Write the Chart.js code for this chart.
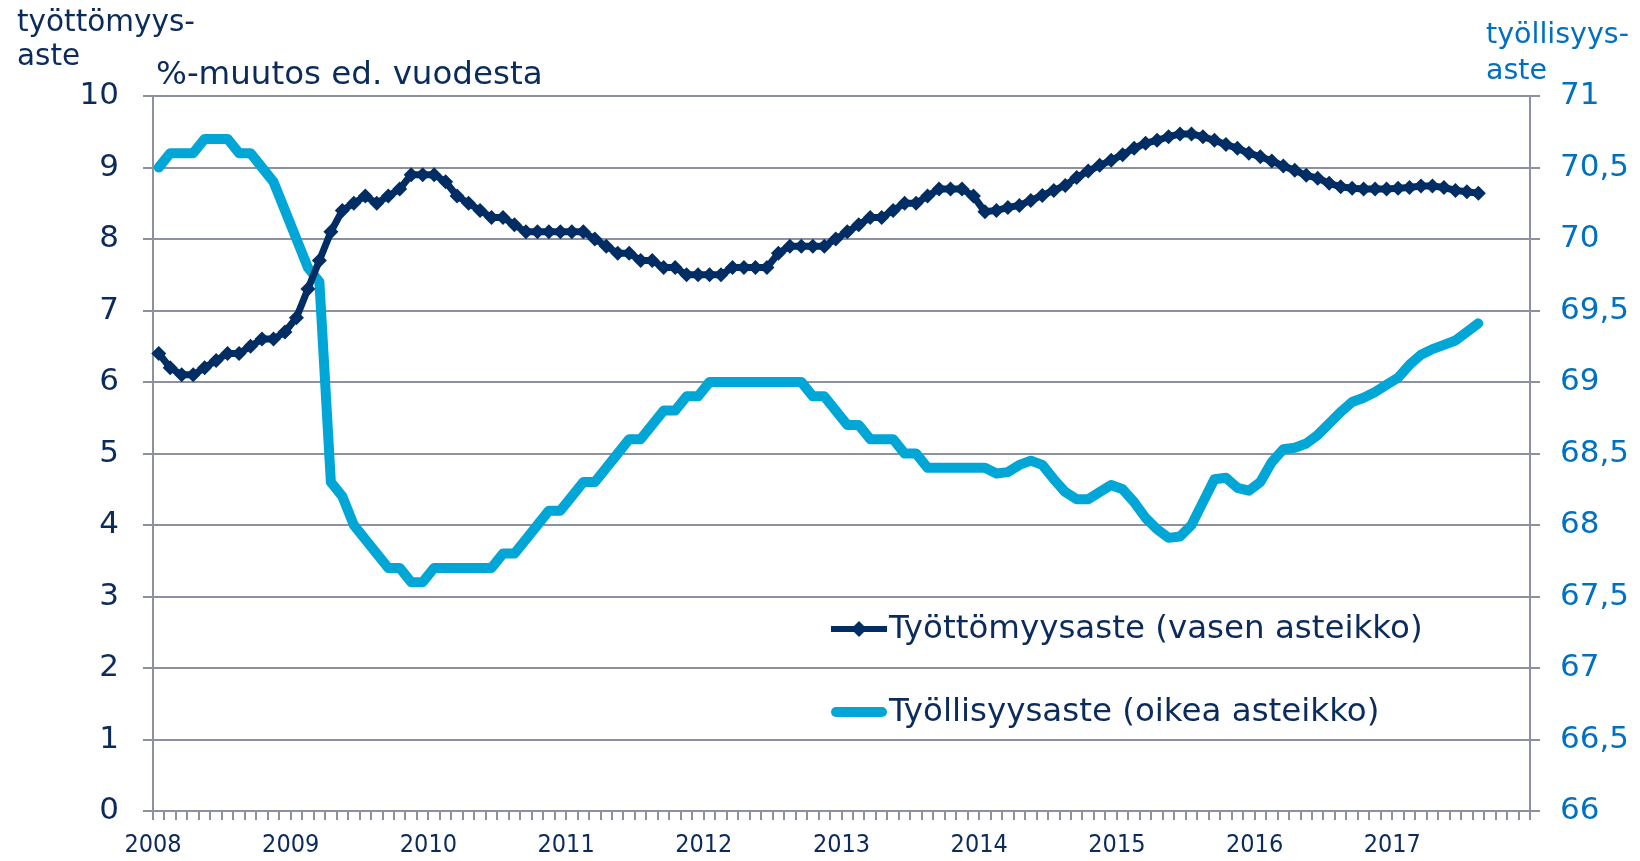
<!DOCTYPE html>
<html>
<head>
<meta charset="utf-8">
<script src="https://cdn.jsdelivr.net/npm/chart.js@4.4.1/dist/chart.umd.min.js"></script>
<style>
  html, body { margin: 0; padding: 0; background: #ffffff; }
  #wrap { position: relative; width: 1640px; height: 861px; }
</style>
</head>
<body>
<div id="wrap"><canvas id="chart"></canvas></div>
<script>
// vuodet ja kuukaudet (tammikuu 2008 – joulukuu 2017)
const years = ["2008","2009","2010","2011","2012","2013","2014","2015","2016","2017"];
const months = [];
years.forEach(y => { for (let m = 1; m <= 12; m++) months.push(y + "-" + m); });

// työttömyysaste, % (vasen asteikko)
const unemployment = [
  6.4, 6.2, 6.1, 6.1, 6.2, 6.3, 6.4, 6.4, 6.5, 6.6, 6.6, 6.7,
  6.9, 7.3, 7.7, 8.1, 8.4, 8.5, 8.6, 8.5, 8.6, 8.7, 8.9, 8.9,
  8.9, 8.8, 8.6, 8.5, 8.4, 8.3, 8.3, 8.2, 8.1, 8.1, 8.1, 8.1,
  8.1, 8.1, 8.0, 7.9, 7.8, 7.8, 7.7, 7.7, 7.6, 7.6, 7.5, 7.5,
  7.5, 7.5, 7.6, 7.6, 7.6, 7.6, 7.8, 7.9, 7.9, 7.9, 7.9, 8.0,
  8.1, 8.2, 8.3, 8.3, 8.4, 8.5, 8.5, 8.6, 8.7, 8.7, 8.7, 8.6,
  8.38, 8.4, 8.44, 8.47, 8.54, 8.61, 8.68, 8.75, 8.86, 8.95, 9.03, 9.1,
  9.18, 9.27, 9.34, 9.38, 9.43, 9.47, 9.47, 9.43, 9.38, 9.32, 9.27, 9.2,
  9.15, 9.09, 9.02, 8.96, 8.89, 8.85, 8.78, 8.73, 8.71, 8.7, 8.7, 8.7,
  8.71, 8.72, 8.74, 8.74, 8.72, 8.68, 8.66, 8.64
];

// työllisyysaste, % (oikea asteikko)
const employment = [
  70.5, 70.6, 70.6, 70.6, 70.7, 70.7, 70.7, 70.6, 70.6, 70.5, 70.4, 70.2,
  70.0, 69.8, 69.7, 68.3, 68.2, 68.0, 67.9, 67.8, 67.7, 67.7, 67.6, 67.6,
  67.7, 67.7, 67.7, 67.7, 67.7, 67.7, 67.8, 67.8, 67.9, 68.0, 68.1, 68.1,
  68.2, 68.3, 68.3, 68.4, 68.5, 68.6, 68.6, 68.7, 68.8, 68.8, 68.9, 68.9,
  69.0, 69.0, 69.0, 69.0, 69.0, 69.0, 69.0, 69.0, 69.0, 68.9, 68.9, 68.8,
  68.7, 68.7, 68.6, 68.6, 68.6, 68.5, 68.5, 68.4, 68.4, 68.4, 68.4, 68.4,
  68.4, 68.36, 68.37, 68.42, 68.45, 68.42, 68.32, 68.23, 68.18, 68.18, 68.23, 68.28,
  68.25, 68.16, 68.05, 67.97, 67.91, 67.92, 68.0, 68.16, 68.32, 68.33, 68.26, 68.24,
  68.3, 68.44, 68.53, 68.54, 68.57, 68.63, 68.71, 68.79, 68.86, 68.89, 68.93, 68.98,
  69.03, 69.12, 69.19, 69.23, 69.26, 69.29, 69.35, 69.41
];

const seriesNames = ["Työttömyysaste (vasen asteikko)", "Työllisyysaste (oikea asteikko)"];

const NAVY = "#002d64";
const LIGHT = "#00a6d6";
const TEXT_NAVY = "#0b2b5c";
const TEXT_BLUE = "#0070c0";
const GRID = "#8d90a0";
const FONT = "'DejaVu Sans', Verdana, sans-serif";

// otsikot ja selite piirretään itse
const extraText = {
  id: "extraText",
  afterDraw(chart) {
    const ctx = chart.ctx;
    ctx.save();
    ctx.textAlign = "left";
    ctx.textBaseline = "alphabetic";

    ctx.fillStyle = TEXT_NAVY;
    ctx.font = "29.5px " + FONT;
    ctx.fillText("työttömyys-", 17, 31);
    ctx.fillText("aste", 17, 65);
    ctx.font = "32.5px " + FONT;
    ctx.fillText("%-muutos ed. vuodesta", 156, 84);

    ctx.fillStyle = TEXT_BLUE;
    ctx.font = "28.5px " + FONT;
    ctx.fillText("työllisyys-", 1486, 43);
    ctx.fillText("aste", 1486, 79);

    // selite
    const lx1 = 831, lx2 = 887, ly1 = 629, ly2 = 712;
    ctx.lineCap = "butt";
    ctx.strokeStyle = NAVY;
    ctx.lineWidth = 6;
    ctx.beginPath(); ctx.moveTo(lx1, ly1); ctx.lineTo(lx2, ly1); ctx.stroke();
    ctx.fillStyle = NAVY;
    ctx.beginPath();
    const cx = (lx1 + lx2) / 2, r = 8;
    ctx.moveTo(cx, ly1 - r); ctx.lineTo(cx + r, ly1); ctx.lineTo(cx, ly1 + r); ctx.lineTo(cx - r, ly1);
    ctx.closePath(); ctx.fill();

    ctx.strokeStyle = LIGHT;
    ctx.lineWidth = 10;
    ctx.lineCap = "round";
    ctx.beginPath(); ctx.moveTo(lx1 + 5, ly2); ctx.lineTo(lx2 - 5, ly2); ctx.stroke();

    ctx.fillStyle = TEXT_NAVY;
    ctx.font = "32.5px " + FONT;
    ctx.textBaseline = "middle";
    ctx.fillText(seriesNames[0], 889, ly1 + 1);
    ctx.fillText(seriesNames[1], 889, ly2 + 1);
    ctx.restore();
  }
};

const ctx = document.getElementById("chart").getContext("2d");
new Chart(ctx, {
  type: "line",
  data: {
    labels: months,
    datasets: [{
      label: seriesNames[0],
      data: unemployment,
      yAxisID: "y",
      borderColor: NAVY,
      backgroundColor: NAVY,
      borderWidth: 7,
      borderJoinStyle: "round",
      pointStyle: "rectRot",
      pointRadius: 7.5,
      pointBorderWidth: 0,
      pointBackgroundColor: NAVY,
      tension: 0
    }, {
      label: seriesNames[1],
      data: employment,
      yAxisID: "y1",
      borderColor: LIGHT,
      borderWidth: 10,
      borderCapStyle: "round",
      borderJoinStyle: "round",
      pointRadius: 0,
      tension: 0
    }]
  },
  options: {
    responsive: true,
    maintainAspectRatio: false,
    animation: false,
    devicePixelRatio: 1,
    layout: { padding: { top: 96, left: 0, right: 0, bottom: 0 } },
    plugins: { legend: { display: false }, tooltip: { enabled: false } },
    scales: {
      x: {
        type: "category",
        offset: true,
        afterFit: s => { s.height = 50; },
        grid: { offset: true, drawOnChartArea: false, tickLength: 9, color: GRID, lineWidth: 2 },
        border: { display: false },
        ticks: {
          autoSkip: false,
          maxRotation: 0,
          labelOffset: -5.74,
          padding: 10,
          color: TEXT_NAVY,
          font: { family: "'DejaVu Sans Condensed', 'DejaVu Sans'", size: 25 },
          callback: (v, i) => (i % 12 === 0 ? years[i / 12] : "")
        }
      },
      y: {
        position: "left",
        min: 0, max: 10,
        afterFit: s => { s.width = 153; },
        grid: { color: GRID, lineWidth: 2, tickLength: 10 },
        border: { display: true, color: GRID, width: 2 },
        ticks: { stepSize: 1, padding: 24, color: TEXT_NAVY, font: { family: FONT, size: 31 } }
      },
      y1: {
        position: "right",
        min: 66, max: 71,
        afterFit: s => { s.width = 110; },
        grid: { drawOnChartArea: false, color: GRID, lineWidth: 2, tickLength: 10 },
        border: { display: true, color: GRID, width: 2 },
        ticks: {
          stepSize: 0.5, padding: 20, color: TEXT_BLUE, font: { family: FONT, size: 31 },
          callback: v => String(v).replace(".", ",")
        }
      }
    }
  },
  plugins: [extraText]
});
</script>
</body>
</html>
